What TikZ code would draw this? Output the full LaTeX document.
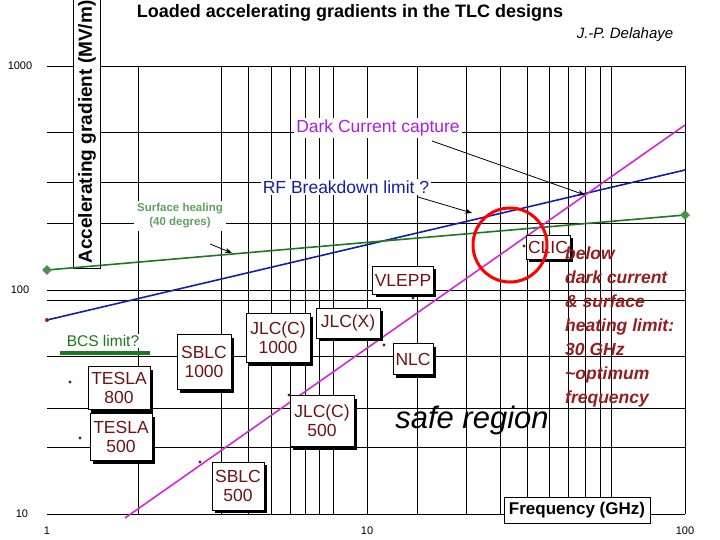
\documentclass[tikz,border=0pt]{standalone}
\usepackage{fontspec}
\setmainfont{Liberation Sans}
\usetikzlibrary{shapes.geometric,arrows.meta,shadows}
\definecolor{lblue}{RGB}{20,30,170}
\definecolor{lgreen}{RGB}{30,120,30}
\definecolor{lmag}{RGB}{210,40,220}
\definecolor{lbrown}{RGB}{110,20,20}
\definecolor{lred}{RGB}{150,30,30}
\tikzset{
 shbox/.style={draw=black,fill=white,line width=0.6pt,align=center,font=\fontsize{17.5}{19}\selectfont,text=lbrown,inner sep=2pt,
   general shadow={fill=black,shadow xshift=3pt,shadow yshift=-3pt}},
 dot/.style={circle,fill=lbrown,inner sep=1.2pt},
 arr/.style={-{Stealth[length=7pt]},line width=0.8pt},
 grid/.style={line width=0.6pt},
 num/.style={font=\fontsize{11}{11}\selectfont},
}
\begin{document}
\begin{tikzpicture}[x=1pt,y=-1pt]
\useasboundingbox (0,0) rectangle (720,540);
\fill[white] (0,0) rectangle (720,540);
% grid
\foreach \xx in {138,221,248,271,290,305,319,333,367,417,466,500,527,549,568,585,600,611,685}{
  \draw[grid] (\xx,66) -- (\xx,514);
}
\foreach \yy in {66,132,182,223,290,300,356,408,447,514}{
  \draw[grid] (47,\yy) -- (685,\yy);
}
% axis labels
\node[num] at (20,66) {1000};
\node[num] at (20,290) {100};
\node[num] at (22,514) {10};
\node[num] at (47,531) {1};
\node[num] at (367,531) {10};
\node[num] at (685,531) {100};
\node (ylab) [draw,fill=white,rotate=90,font=\bfseries\fontsize{19}{20}\selectfont,minimum height=27pt,minimum width=272pt,inner sep=1pt] at (87,132) {Accelerating gradient (MV/m)};
\node (freq) [draw,fill=white,font=\bfseries\fontsize{17}{18}\selectfont,minimum width=146pt,minimum height=26pt] at (577,510) {Frequency (GHz)};
% title
\node (title) [font=\bfseries\fontsize{18}{20}\selectfont] at (350,13) {Loaded accelerating gradients in the TLC designs};
\node (auth) [font=\itshape\fontsize{15}{16}\selectfont] at (625,35) {J.-P. Delahaye};
% lines
\draw[lblue,line width=1.6pt] (47,320) coordinate (b0) -- (685,170) coordinate (b1);
\fill[lred] (b0) circle (2pt);
\draw[lgreen,line width=1.6pt] (47,270) coordinate (g0) -- (685,215) coordinate (g1);
\node[diamond,fill=lgreen!80!white,inner sep=2.5pt] at (g0) {};
\node[diamond,fill=lgreen!80!white,inner sep=2.5pt] at (g1) {};
\draw[lmag,line width=1.6pt] (125,518) -- (685,125);
\node (bcs) [text=lgreen,font=\fontsize{15.5}{16}\selectfont,fill=white,inner sep=1pt] at (103,341) {BCS limit?};
\draw[lgreen,line width=4pt] (60,353) -- (150,353);
% annotations
\node (dark) [text=lmag!80!blue,font=\fontsize{17.5}{18}\selectfont,fill=white,inner sep=2pt] at (378,128) {Dark Current capture};
\node (rfb) [text=lblue,font=\fontsize{17.5}{18}\selectfont,fill=white,inner sep=2pt] at (346,187) {RF Breakdown limit ?};
\node (surf) [text=lgreen!70!white,font=\bfseries\fontsize{11.5}{14}\selectfont,fill=white,align=center,inner sep=3pt] at (180,216) {Surface healing\\(40 degres)};
\coordinate (da) at (585,195);
\coordinate (ra) at (472,213);
\coordinate (sa) at (232,253);
\draw[arr] (432,141) -- (da);
\draw[arr] (418,197) -- (ra);
\draw[arr] (210,244) -- (sa);
% boxes
\node (vlepp) [shbox,minimum width=60pt,minimum height=28pt] at (403,280) {VLEPP};
\node (jlcx) [shbox,minimum width=64pt,minimum height=30pt] at (348,323) {JLC(X)};
\node (jlcc1) [shbox,minimum width=64pt,minimum height=49pt] at (278,338) {JLC(C)\\1000};
\node (sblc1) [shbox,minimum width=54pt,minimum height=55pt] at (204,362) {SBLC\\1000};
\node (t800) [shbox,minimum width=62pt,minimum height=43pt] at (119,388) {TESLA\\800};
\node (t500) [shbox,minimum width=62pt,minimum height=47pt] at (121,437) {TESLA\\500};
\node (jlcc5) [shbox,minimum width=64pt,minimum height=51pt] at (322,421) {JLC(C)\\500};
\node (nlc) [shbox,minimum width=40pt,minimum height=31pt] at (413,359) {NLC};
\node (sblc5) [shbox,minimum width=52pt,minimum height=48pt] at (238,486) {SBLC\\500};
\node (clic) [shbox,minimum width=42pt,minimum height=24pt] at (548,247) {CLIC};
\node (safe) [font=\itshape\fontsize{31}{33}\selectfont] at (472,420) {safe region};
% dots
\node[dot] at (413,298) {};
\node[dot] at (384,345) {};
\node[dot] at (70,382) {};
\node[dot] at (80,438) {};
\node[dot] at (200,462) {};
\node[dot] at (289,395) {};
\node[dot] at (524,246) {};
% circle
\draw[red,line width=3pt] (510,245) circle (37pt);
% note
\node (note) [text=lred,font=\bfseries\itshape\fontsize{17.5}{24}\selectfont,align=left,anchor=north west,inner sep=0pt] at (565,247) {below\\dark current\\\& surface\\heating limit:\\30 GHz\\\textasciitilde optimum\\frequency};
\end{tikzpicture}
\end{document}
